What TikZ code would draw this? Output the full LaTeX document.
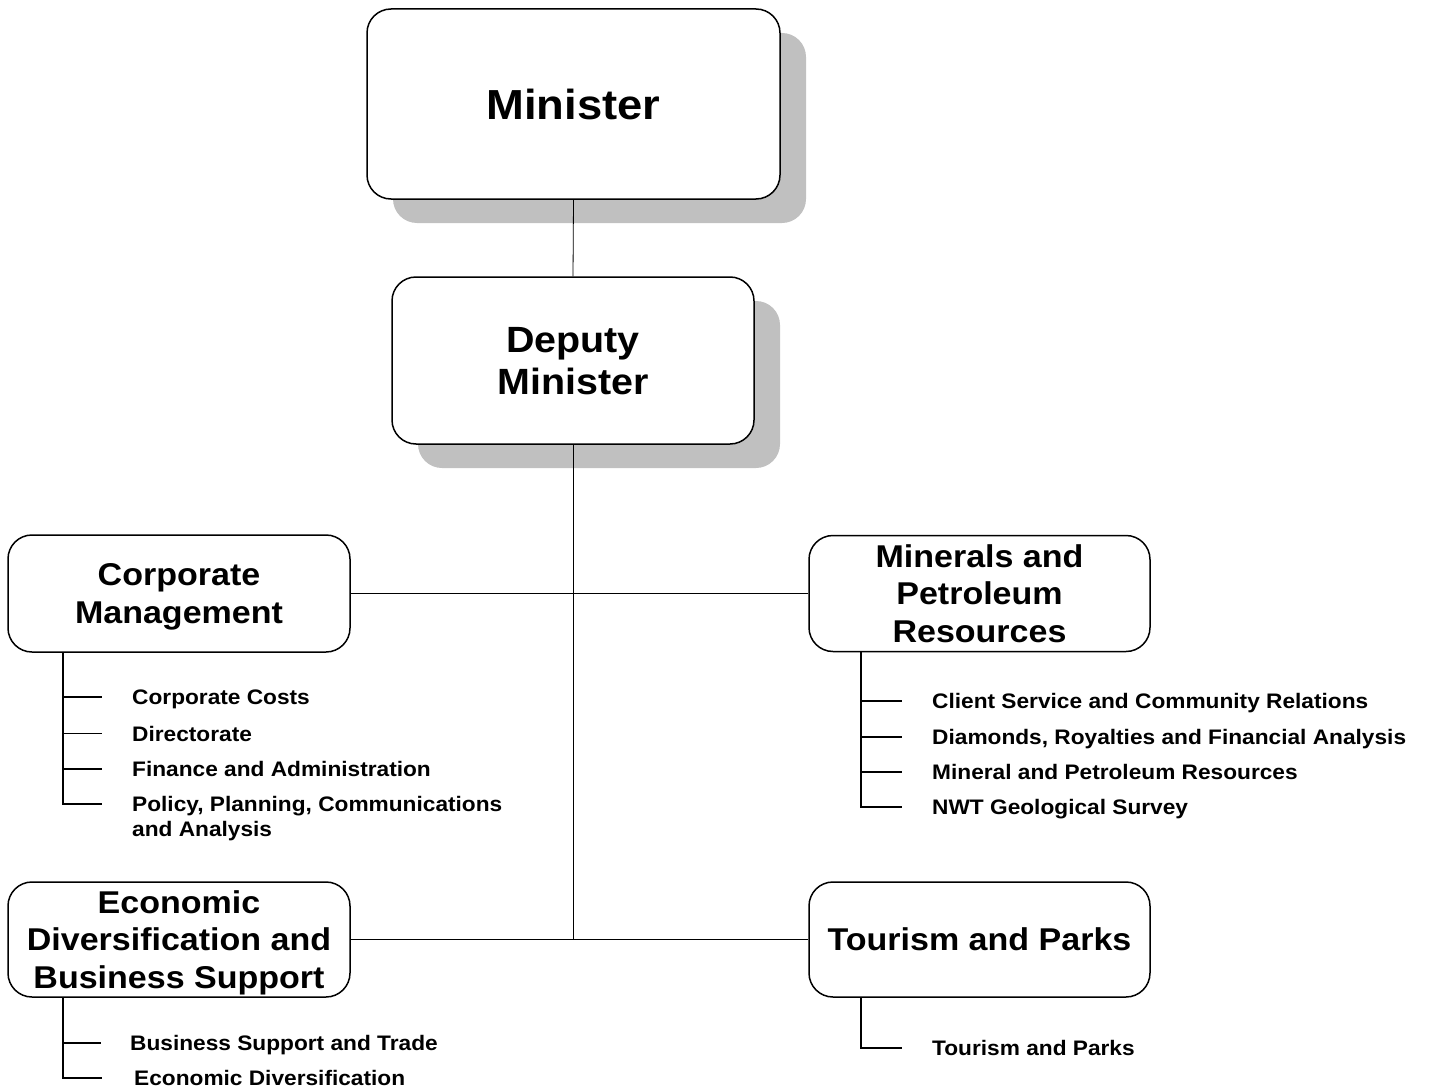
\documentclass[tikz,border=0pt]{standalone}
\usepackage{fontspec}
\setmainfont{Liberation Sans}[FakeStretch=1.08]
\usetikzlibrary{shadows}
\definecolor{shadowgray}{HTML}{C0C0C0}
\begin{document}
\begin{tikzpicture}[x=1pt,y=-1pt,
  box/.style={draw, line width=1.5pt, rounded corners=24pt, fill=white, align=center, inner sep=0pt,
    text depth=0pt, font=\bfseries\fontsize{31.5}{37.5}\selectfont},
  shad/.style={drop shadow={shadow xshift=26pt, shadow yshift=-24pt, fill=shadowgray, opacity=1}},
  conn/.style={line width=0.8pt},
  sub/.style={line width=1.9pt},
  item/.style={anchor=base west, inner sep=0pt, align=left, font=\bfseries\fontsize{21}{25}\selectfont}]
\useasboundingbox (0,0) rectangle (1429,1089);

% main boxes
\node[box, shad, minimum width=413pt, minimum height=190pt, font=\bfseries\fontsize{42}{48}\selectfont] (min) at (573.5,104) {Minister};
\node[box, shad, minimum width=362pt, minimum height=167pt, font=\bfseries\fontsize{36.5}{42}\selectfont] (dep) at (573,360.5) {Deputy\\Minister};

\node[box, minimum width=342pt, minimum height=117pt] (cm) at (179,593.5) {Corporate\\Management};
\node[box, minimum width=341pt, minimum height=116pt] (mp) at (979.5,593.5) {Minerals and\\Petroleum\\Resources};
\node[box, minimum width=342pt, minimum height=115pt] (ed) at (179,939.5) {Economic\\Diversification and\\Business Support};
\node[box, minimum width=341pt, minimum height=115pt] (tp) at (979.5,939.5) {Tourism and Parks};

% connectors
\coordinate (j2) at (dep.south |- ed.east);
\draw[conn] (min.south) -- (dep.north);
\draw[conn] (dep.south) -- (j2);
\draw[conn] (cm.east) -- (cm.east -| mp.west);
\draw[conn] (ed.east) -- (tp.west);

% sub items: corporate management
\node[item] (c1) at (132,704.5) {Corporate Costs};
\node[item] (c2) at (132,741) {Directorate};
\node[item] (c3) at (132,776.5) {Finance and Administration};
\node[item] (c4) at (132,836.5) {Policy, Planning, Communications\\and Analysis};
\coordinate (cmv) at ([xshift=56pt]cm.south west);
\foreach \n in {c1,c2,c3}{
  \coordinate (t\n) at ([yshift=7.5pt]\n.base west);
  \draw[sub] (cmv |- t\n) -- ([xshift=-30pt]t\n);
}
\coordinate (tc4) at ([yshift=32.5pt]c4.base west);
\draw[sub] (cmv) |- ([xshift=-30pt]tc4);

% sub items: minerals
\node[item] (m1) at (932,708.5) {Client Service and Community Relations};
\node[item] (m2) at (932,744.5) {Diamonds, Royalties and Financial Analysis};
\node[item] (m3) at (932,779.5) {Mineral and Petroleum Resources};
\node[item] (m4) at (932,814.5) {NWT Geological Survey};
\coordinate (mpv) at ([xshift=53pt]mp.south west);
\foreach \n in {m1,m2,m3}{
  \coordinate (t\n) at ([yshift=7.5pt]\n.base west);
  \draw[sub] (mpv |- t\n) -- ([xshift=-30pt]t\n);
}
\draw[sub] (mpv) |- ([xshift=-30pt,yshift=7.5pt]m4.base west);

% sub items: economic diversification
\node[item] (e1) at (130,1050.5) {Business Support and Trade};
\node[item] (e2) at (134,1085.5) {Economic Diversification};
\coordinate (edv) at ([xshift=56pt]ed.south west);
\draw[sub] (edv |- e1.base west) ++(0,-7.5) -- ++(38,0);
\draw[sub] (edv) |- ([xshift=-32pt,yshift=7.5pt]e2.base west);

% sub items: tourism
\node[item] (p1) at (932,1055.5) {Tourism and Parks};
\coordinate (tpv) at ([xshift=53pt]tp.south west);
\draw[sub] (tpv) |- ([xshift=-30pt,yshift=7.5pt]p1.base west);
\end{tikzpicture}
\end{document}
